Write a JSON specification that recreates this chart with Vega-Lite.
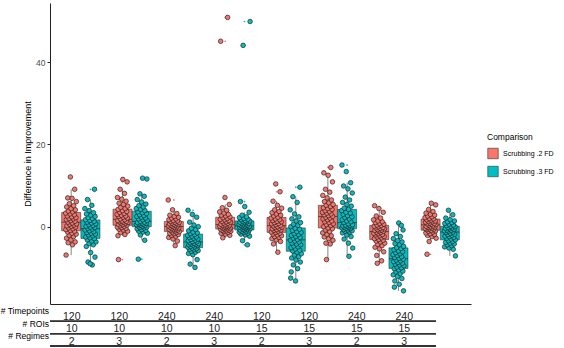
{
  "$schema": "https://vega.github.io/schema/vega-lite/v6.json",
  "background": "white",
  "padding": {"left": 0, "top": 3, "right": 0, "bottom": 0},
  "spacing": 2,
  "config": {
    "font": "Liberation Sans",
    "view": {"stroke": null},
    "axis": {"grid": false, "domainColor": "#222", "tickColor": "#222", "labelColor": "#4d4d4d", "labelFontSize": 8.5, "titleFontWeight": "normal", "titleColor": "#000", "titleFontSize": 9},
    "legend": {"titleFontSize": 8.5, "titleFontWeight": "normal", "titleColor": "#000", "labelFontSize": 7, "labelColor": "#000", "symbolType": "square", "symbolSize": 110, "symbolStrokeColor": "#333", "symbolStrokeWidth": 0.6, "rowPadding": 4, "titlePadding": 6}
  },
  "datasets": {
    "comparisons": [
      {"c": 2, "comparison": "Scrubbing .2 FD"},
      {"c": 3, "comparison": "Scrubbing .3 FD"}
    ],
    "table": [
      {"g": 1, "row": "# Timepoints", "value": "120"}, {"g": 2, "row": "# Timepoints", "value": "120"},
      {"g": 3, "row": "# Timepoints", "value": "240"}, {"g": 4, "row": "# Timepoints", "value": "240"},
      {"g": 5, "row": "# Timepoints", "value": "120"}, {"g": 6, "row": "# Timepoints", "value": "120"},
      {"g": 7, "row": "# Timepoints", "value": "240"}, {"g": 8, "row": "# Timepoints", "value": "240"},
      {"g": 1, "row": "# ROIs", "value": "10"}, {"g": 2, "row": "# ROIs", "value": "10"},
      {"g": 3, "row": "# ROIs", "value": "10"}, {"g": 4, "row": "# ROIs", "value": "10"},
      {"g": 5, "row": "# ROIs", "value": "15"}, {"g": 6, "row": "# ROIs", "value": "15"},
      {"g": 7, "row": "# ROIs", "value": "15"}, {"g": 8, "row": "# ROIs", "value": "15"},
      {"g": 1, "row": "# Regimes", "value": "2"}, {"g": 2, "row": "# Regimes", "value": "3"},
      {"g": 3, "row": "# Regimes", "value": "2"}, {"g": 4, "row": "# Regimes", "value": "3"},
      {"g": 5, "row": "# Regimes", "value": "2"}, {"g": 6, "row": "# Regimes", "value": "3"},
      {"g": 7, "row": "# Regimes", "value": "2"}, {"g": 8, "row": "# Regimes", "value": "3"}
    ],
    "scores": [
      {"g":1,"c":2,"d":-4.4},{"g":1,"c":2,"d":-3.9},{"g":1,"c":2,"d":-3.7},{"g":1,"c":2,"d":-3.2},{"g":1,"c":2,"d":-2.8},{"g":1,"c":2,"d":-2.4},{"g":1,"c":2,"d":-2.1},{"g":1,"c":2,"d":-1.8},{"g":1,"c":2,"d":-1.6},{"g":1,"c":2,"d":-1.3},{"g":1,"c":2,"d":-1.1},{"g":1,"c":2,"d":-0.9},{"g":1,"c":2,"d":-0.7},{"g":1,"c":2,"d":-0.5},{"g":1,"c":2,"d":-0.3},{"g":1,"c":2,"d":-0.1},{"g":1,"c":2,"d":0.1},{"g":1,"c":2,"d":0.2},{"g":1,"c":2,"d":0.4},{"g":1,"c":2,"d":0.6},{"g":1,"c":2,"d":0.7},{"g":1,"c":2,"d":0.9},
      {"g":1,"c":2,"d":1.1},{"g":1,"c":2,"d":1.3},{"g":1,"c":2,"d":1.5},{"g":1,"c":2,"d":1.7},{"g":1,"c":2,"d":1.9},{"g":1,"c":2,"d":2.0},{"g":1,"c":2,"d":2.2},{"g":1,"c":2,"d":2.4},{"g":1,"c":2,"d":2.6},{"g":1,"c":2,"d":2.9},{"g":1,"c":2,"d":3.1},{"g":1,"c":2,"d":3.3},{"g":1,"c":2,"d":3.6},{"g":1,"c":2,"d":3.8},{"g":1,"c":2,"d":4.1},{"g":1,"c":2,"d":4.4},{"g":1,"c":2,"d":4.8},{"g":1,"c":2,"d":5.1},{"g":1,"c":2,"d":5.6},{"g":1,"c":2,"d":6.1},{"g":1,"c":2,"d":6.9},{"g":1,"c":2,"d":7.0},
      {"g":1,"c":2,"d":9.1},{"g":1,"c":2,"d":12.1},{"g":1,"c":2,"d":-6.9},
      {"g":1,"c":3,"d":-9.3},{"g":1,"c":3,"d":-8.6},{"g":1,"c":3,"d":-7.4},{"g":1,"c":3,"d":-6.3},{"g":1,"c":3,"d":-4.8},{"g":1,"c":3,"d":-4.4},{"g":1,"c":3,"d":-4.1},{"g":1,"c":3,"d":-3.7},{"g":1,"c":3,"d":-3.5},{"g":1,"c":3,"d":-3.2},{"g":1,"c":3,"d":-2.9},{"g":1,"c":3,"d":-2.7},{"g":1,"c":3,"d":-2.5},{"g":1,"c":3,"d":-2.2},{"g":1,"c":3,"d":-2.0},{"g":1,"c":3,"d":-1.8},{"g":1,"c":3,"d":-1.6},{"g":1,"c":3,"d":-1.4},{"g":1,"c":3,"d":-1.2},{"g":1,"c":3,"d":-1.0},{"g":1,"c":3,"d":-0.8},{"g":1,"c":3,"d":-0.6},
      {"g":1,"c":3,"d":-0.4},{"g":1,"c":3,"d":-0.2},{"g":1,"c":3,"d":-0.1},{"g":1,"c":3,"d":0.1},{"g":1,"c":3,"d":0.3},{"g":1,"c":3,"d":0.5},{"g":1,"c":3,"d":0.7},{"g":1,"c":3,"d":0.9},{"g":1,"c":3,"d":1.1},{"g":1,"c":3,"d":1.3},{"g":1,"c":3,"d":1.5},{"g":1,"c":3,"d":1.7},{"g":1,"c":3,"d":2.0},{"g":1,"c":3,"d":2.2},{"g":1,"c":3,"d":2.5},{"g":1,"c":3,"d":2.8},{"g":1,"c":3,"d":3.1},{"g":1,"c":3,"d":3.4},{"g":1,"c":3,"d":3.9},{"g":1,"c":3,"d":4.4},{"g":1,"c":3,"d":5.2},{"g":1,"c":3,"d":6.6},
      {"g":1,"c":3,"d":9.1},{"g":1,"c":3,"d":-9.0},
      {"g":2,"c":2,"d":-2.2},{"g":2,"c":2,"d":-1.9},{"g":2,"c":2,"d":-1.4},{"g":2,"c":2,"d":-1.1},{"g":2,"c":2,"d":-0.8},{"g":2,"c":2,"d":-0.6},{"g":2,"c":2,"d":-0.4},{"g":2,"c":2,"d":-0.2},{"g":2,"c":2,"d":-0.1},{"g":2,"c":2,"d":0.1},{"g":2,"c":2,"d":0.2},{"g":2,"c":2,"d":0.4},{"g":2,"c":2,"d":0.5},{"g":2,"c":2,"d":0.6},{"g":2,"c":2,"d":0.8},{"g":2,"c":2,"d":0.9},{"g":2,"c":2,"d":1.0},{"g":2,"c":2,"d":1.1},{"g":2,"c":2,"d":1.2},{"g":2,"c":2,"d":1.3},{"g":2,"c":2,"d":1.4},{"g":2,"c":2,"d":1.5},
      {"g":2,"c":2,"d":1.7},{"g":2,"c":2,"d":1.9},{"g":2,"c":2,"d":2.1},{"g":2,"c":2,"d":2.3},{"g":2,"c":2,"d":2.5},{"g":2,"c":2,"d":2.6},{"g":2,"c":2,"d":2.8},{"g":2,"c":2,"d":3.0},{"g":2,"c":2,"d":3.2},{"g":2,"c":2,"d":3.5},{"g":2,"c":2,"d":3.7},{"g":2,"c":2,"d":3.9},{"g":2,"c":2,"d":4.2},{"g":2,"c":2,"d":4.4},{"g":2,"c":2,"d":4.7},{"g":2,"c":2,"d":5.0},{"g":2,"c":2,"d":5.4},{"g":2,"c":2,"d":5.7},{"g":2,"c":2,"d":6.2},{"g":2,"c":2,"d":6.7},{"g":2,"c":2,"d":7.1},{"g":2,"c":2,"d":8.1},
      {"g":2,"c":2,"d":9.1},{"g":2,"c":2,"d":10.9},{"g":2,"c":2,"d":11.5},{"g":2,"c":2,"d":-8.0},
      {"g":2,"c":3,"d":-3.3},{"g":2,"c":3,"d":-2.0},{"g":2,"c":3,"d":-1.6},{"g":2,"c":3,"d":-1.3},{"g":2,"c":3,"d":-1.1},{"g":2,"c":3,"d":-0.9},{"g":2,"c":3,"d":-0.7},{"g":2,"c":3,"d":-0.5},{"g":2,"c":3,"d":-0.3},{"g":2,"c":3,"d":-0.2},{"g":2,"c":3,"d":-0.1},{"g":2,"c":3,"d":0.1},{"g":2,"c":3,"d":0.2},{"g":2,"c":3,"d":0.3},{"g":2,"c":3,"d":0.4},{"g":2,"c":3,"d":0.5},{"g":2,"c":3,"d":0.6},{"g":2,"c":3,"d":0.7},{"g":2,"c":3,"d":0.8},{"g":2,"c":3,"d":0.9},{"g":2,"c":3,"d":1.0},{"g":2,"c":3,"d":1.1},
      {"g":2,"c":3,"d":1.3},{"g":2,"c":3,"d":1.5},{"g":2,"c":3,"d":1.7},{"g":2,"c":3,"d":1.9},{"g":2,"c":3,"d":2.1},{"g":2,"c":3,"d":2.3},{"g":2,"c":3,"d":2.5},{"g":2,"c":3,"d":2.7},{"g":2,"c":3,"d":2.9},{"g":2,"c":3,"d":3.2},{"g":2,"c":3,"d":3.4},{"g":2,"c":3,"d":3.6},{"g":2,"c":3,"d":3.9},{"g":2,"c":3,"d":4.2},{"g":2,"c":3,"d":4.4},{"g":2,"c":3,"d":4.8},{"g":2,"c":3,"d":5.1},{"g":2,"c":3,"d":5.5},{"g":2,"c":3,"d":6.0},{"g":2,"c":3,"d":6.6},{"g":2,"c":3,"d":7.4},{"g":2,"c":3,"d":8.0},
      {"g":2,"c":3,"d":11.6},{"g":2,"c":3,"d":11.8},{"g":2,"c":3,"d":-7.9},
      {"g":3,"c":2,"d":-3.5},{"g":3,"c":2,"d":-3.0},{"g":3,"c":2,"d":-2.6},{"g":3,"c":2,"d":-2.3},{"g":3,"c":2,"d":-2.1},{"g":3,"c":2,"d":-1.9},{"g":3,"c":2,"d":-1.7},{"g":3,"c":2,"d":-1.6},{"g":3,"c":2,"d":-1.4},{"g":3,"c":2,"d":-1.3},{"g":3,"c":2,"d":-1.2},{"g":3,"c":2,"d":-1.0},{"g":3,"c":2,"d":-0.9},{"g":3,"c":2,"d":-0.8},{"g":3,"c":2,"d":-0.7},{"g":3,"c":2,"d":-0.6},{"g":3,"c":2,"d":-0.5},{"g":3,"c":2,"d":-0.4},{"g":3,"c":2,"d":-0.3},{"g":3,"c":2,"d":-0.2},{"g":3,"c":2,"d":-0.1},{"g":3,"c":2,"d":0.0},
      {"g":3,"c":2,"d":0.1},{"g":3,"c":2,"d":0.2},{"g":3,"c":2,"d":0.3},{"g":3,"c":2,"d":0.4},{"g":3,"c":2,"d":0.5},{"g":3,"c":2,"d":0.6},{"g":3,"c":2,"d":0.7},{"g":3,"c":2,"d":0.8},{"g":3,"c":2,"d":0.9},{"g":3,"c":2,"d":1.0},{"g":3,"c":2,"d":1.1},{"g":3,"c":2,"d":1.3},{"g":3,"c":2,"d":1.4},{"g":3,"c":2,"d":1.5},{"g":3,"c":2,"d":1.7},{"g":3,"c":2,"d":1.9},{"g":3,"c":2,"d":2.1},{"g":3,"c":2,"d":2.3},{"g":3,"c":2,"d":2.5},{"g":3,"c":2,"d":2.8},{"g":3,"c":2,"d":3.2},{"g":3,"c":2,"d":4.1},
      {"g":3,"c":2,"d":6.5},{"g":3,"c":2,"d":-4.6},
      {"g":3,"c":3,"d":-9.1},{"g":3,"c":3,"d":-8.0},{"g":3,"c":3,"d":-6.8},{"g":3,"c":3,"d":-6.5},{"g":3,"c":3,"d":-6.2},{"g":3,"c":3,"d":-6.0},{"g":3,"c":3,"d":-5.8},{"g":3,"c":3,"d":-5.6},{"g":3,"c":3,"d":-5.5},{"g":3,"c":3,"d":-5.3},{"g":3,"c":3,"d":-5.2},{"g":3,"c":3,"d":-5.0},{"g":3,"c":3,"d":-4.9},{"g":3,"c":3,"d":-4.8},{"g":3,"c":3,"d":-4.6},{"g":3,"c":3,"d":-4.5},{"g":3,"c":3,"d":-4.4},{"g":3,"c":3,"d":-4.3},{"g":3,"c":3,"d":-4.2},{"g":3,"c":3,"d":-4.1},{"g":3,"c":3,"d":-4.0},{"g":3,"c":3,"d":-3.9},
      {"g":3,"c":3,"d":-3.7},{"g":3,"c":3,"d":-3.6},{"g":3,"c":3,"d":-3.4},{"g":3,"c":3,"d":-3.3},{"g":3,"c":3,"d":-3.1},{"g":3,"c":3,"d":-3.0},{"g":3,"c":3,"d":-2.8},{"g":3,"c":3,"d":-2.6},{"g":3,"c":3,"d":-2.5},{"g":3,"c":3,"d":-2.3},{"g":3,"c":3,"d":-2.1},{"g":3,"c":3,"d":-1.9},{"g":3,"c":3,"d":-1.7},{"g":3,"c":3,"d":-1.5},{"g":3,"c":3,"d":-1.3},{"g":3,"c":3,"d":-1.0},{"g":3,"c":3,"d":-0.7},{"g":3,"c":3,"d":-0.4},{"g":3,"c":3,"d":0.0},{"g":3,"c":3,"d":0.4},{"g":3,"c":3,"d":1.1},{"g":3,"c":3,"d":2.3},
      {"g":3,"c":3,"d":3.0},{"g":3,"c":3,"d":4.0},{"g":3,"c":3,"d":-9.9},
      {"g":4,"c":2,"d":-2.7},{"g":4,"c":2,"d":-2.1},{"g":4,"c":2,"d":-1.8},{"g":4,"c":2,"d":-1.6},{"g":4,"c":2,"d":-1.4},{"g":4,"c":2,"d":-1.2},{"g":4,"c":2,"d":-1.1},{"g":4,"c":2,"d":-1.0},{"g":4,"c":2,"d":-0.9},{"g":4,"c":2,"d":-0.8},{"g":4,"c":2,"d":-0.6},{"g":4,"c":2,"d":-0.6},{"g":4,"c":2,"d":-0.5},{"g":4,"c":2,"d":-0.4},{"g":4,"c":2,"d":-0.3},{"g":4,"c":2,"d":-0.2},{"g":4,"c":2,"d":-0.1},{"g":4,"c":2,"d":0.0},{"g":4,"c":2,"d":0.0},{"g":4,"c":2,"d":0.1},{"g":4,"c":2,"d":0.2},{"g":4,"c":2,"d":0.3},
      {"g":4,"c":2,"d":0.4},{"g":4,"c":2,"d":0.5},{"g":4,"c":2,"d":0.6},{"g":4,"c":2,"d":0.8},{"g":4,"c":2,"d":0.9},{"g":4,"c":2,"d":1.1},{"g":4,"c":2,"d":1.2},{"g":4,"c":2,"d":1.3},{"g":4,"c":2,"d":1.5},{"g":4,"c":2,"d":1.7},{"g":4,"c":2,"d":1.8},{"g":4,"c":2,"d":2.0},{"g":4,"c":2,"d":2.2},{"g":4,"c":2,"d":2.4},{"g":4,"c":2,"d":2.6},{"g":4,"c":2,"d":2.8},{"g":4,"c":2,"d":3.0},{"g":4,"c":2,"d":3.3},{"g":4,"c":2,"d":3.6},{"g":4,"c":2,"d":4.0},{"g":4,"c":2,"d":4.6},{"g":4,"c":2,"d":5.4},
      {"g":4,"c":2,"d":7.1},{"g":4,"c":2,"d":45.1},{"g":4,"c":2,"d":50.9},
      {"g":4,"c":3,"d":-3.4},{"g":4,"c":3,"d":-2.3},{"g":4,"c":3,"d":-2.0},{"g":4,"c":3,"d":-1.8},{"g":4,"c":3,"d":-1.6},{"g":4,"c":3,"d":-1.4},{"g":4,"c":3,"d":-1.3},{"g":4,"c":3,"d":-1.2},{"g":4,"c":3,"d":-1.1},{"g":4,"c":3,"d":-1.0},{"g":4,"c":3,"d":-0.8},{"g":4,"c":3,"d":-0.8},{"g":4,"c":3,"d":-0.7},{"g":4,"c":3,"d":-0.6},{"g":4,"c":3,"d":-0.5},{"g":4,"c":3,"d":-0.4},{"g":4,"c":3,"d":-0.3},{"g":4,"c":3,"d":-0.2},{"g":4,"c":3,"d":-0.2},{"g":4,"c":3,"d":-0.1},{"g":4,"c":3,"d":0.0},{"g":4,"c":3,"d":0.1},
      {"g":4,"c":3,"d":0.1},{"g":4,"c":3,"d":0.2},{"g":4,"c":3,"d":0.3},{"g":4,"c":3,"d":0.4},{"g":4,"c":3,"d":0.5},{"g":4,"c":3,"d":0.6},{"g":4,"c":3,"d":0.7},{"g":4,"c":3,"d":0.8},{"g":4,"c":3,"d":0.8},{"g":4,"c":3,"d":1.0},{"g":4,"c":3,"d":1.1},{"g":4,"c":3,"d":1.2},{"g":4,"c":3,"d":1.3},{"g":4,"c":3,"d":1.4},{"g":4,"c":3,"d":1.5},{"g":4,"c":3,"d":1.7},{"g":4,"c":3,"d":1.8},{"g":4,"c":3,"d":2.0},{"g":4,"c":3,"d":2.2},{"g":4,"c":3,"d":2.4},{"g":4,"c":3,"d":2.8},{"g":4,"c":3,"d":3.5},
      {"g":4,"c":3,"d":4.9},{"g":4,"c":3,"d":6.1},{"g":4,"c":3,"d":-4.4},{"g":4,"c":3,"d":44.1},{"g":4,"c":3,"d":49.9},
      {"g":5,"c":2,"d":-6.2},{"g":5,"c":2,"d":-4.2},{"g":5,"c":2,"d":-3.6},{"g":5,"c":2,"d":-3.2},{"g":5,"c":2,"d":-2.9},{"g":5,"c":2,"d":-2.6},{"g":5,"c":2,"d":-2.4},{"g":5,"c":2,"d":-2.2},{"g":5,"c":2,"d":-2.0},{"g":5,"c":2,"d":-1.8},{"g":5,"c":2,"d":-1.6},{"g":5,"c":2,"d":-1.4},{"g":5,"c":2,"d":-1.3},{"g":5,"c":2,"d":-1.1},{"g":5,"c":2,"d":-0.9},{"g":5,"c":2,"d":-0.8},{"g":5,"c":2,"d":-0.7},{"g":5,"c":2,"d":-0.5},{"g":5,"c":2,"d":-0.4},{"g":5,"c":2,"d":-0.2},{"g":5,"c":2,"d":-0.1},{"g":5,"c":2,"d":0.0},
      {"g":5,"c":2,"d":0.2},{"g":5,"c":2,"d":0.3},{"g":5,"c":2,"d":0.5},{"g":5,"c":2,"d":0.7},{"g":5,"c":2,"d":0.8},{"g":5,"c":2,"d":1.0},{"g":5,"c":2,"d":1.2},{"g":5,"c":2,"d":1.3},{"g":5,"c":2,"d":1.5},{"g":5,"c":2,"d":1.7},{"g":5,"c":2,"d":1.9},{"g":5,"c":2,"d":2.1},{"g":5,"c":2,"d":2.3},{"g":5,"c":2,"d":2.6},{"g":5,"c":2,"d":2.8},{"g":5,"c":2,"d":3.1},{"g":5,"c":2,"d":3.4},{"g":5,"c":2,"d":3.7},{"g":5,"c":2,"d":4.1},{"g":5,"c":2,"d":4.5},{"g":5,"c":2,"d":5.2},{"g":5,"c":2,"d":6.2},
      {"g":5,"c":2,"d":8.5},{"g":5,"c":2,"d":10.4},
      {"g":5,"c":3,"d":-12.5},{"g":5,"c":3,"d":-10.2},{"g":5,"c":3,"d":-9.3},{"g":5,"c":3,"d":-8.6},{"g":5,"c":3,"d":-8.1},{"g":5,"c":3,"d":-7.6},{"g":5,"c":3,"d":-7.3},{"g":5,"c":3,"d":-6.9},{"g":5,"c":3,"d":-6.6},{"g":5,"c":3,"d":-6.2},{"g":5,"c":3,"d":-5.9},{"g":5,"c":3,"d":-5.7},{"g":5,"c":3,"d":-5.4},{"g":5,"c":3,"d":-5.1},{"g":5,"c":3,"d":-4.9},{"g":5,"c":3,"d":-4.7},{"g":5,"c":3,"d":-4.4},{"g":5,"c":3,"d":-4.2},{"g":5,"c":3,"d":-4.0},{"g":5,"c":3,"d":-3.7},{"g":5,"c":3,"d":-3.5},{"g":5,"c":3,"d":-3.3},
      {"g":5,"c":3,"d":-3.1},{"g":5,"c":3,"d":-2.8},{"g":5,"c":3,"d":-2.6},{"g":5,"c":3,"d":-2.4},{"g":5,"c":3,"d":-2.1},{"g":5,"c":3,"d":-1.9},{"g":5,"c":3,"d":-1.7},{"g":5,"c":3,"d":-1.4},{"g":5,"c":3,"d":-1.2},{"g":5,"c":3,"d":-0.9},{"g":5,"c":3,"d":-0.6},{"g":5,"c":3,"d":-0.4},{"g":5,"c":3,"d":0.0},{"g":5,"c":3,"d":0.3},{"g":5,"c":3,"d":0.6},{"g":5,"c":3,"d":1.0},{"g":5,"c":3,"d":1.4},{"g":5,"c":3,"d":1.9},{"g":5,"c":3,"d":2.4},{"g":5,"c":3,"d":3.1},{"g":5,"c":3,"d":4.1},{"g":5,"c":3,"d":5.9},
      {"g":5,"c":3,"d":7.3},{"g":5,"c":3,"d":9.6},{"g":5,"c":3,"d":-13.2},{"g":5,"c":3,"d":-11.0},
      {"g":6,"c":2,"d":-4.2},{"g":6,"c":2,"d":-4.0},{"g":6,"c":2,"d":-3.3},{"g":6,"c":2,"d":-2.9},{"g":6,"c":2,"d":-2.5},{"g":6,"c":2,"d":-2.2},{"g":6,"c":2,"d":-1.9},{"g":6,"c":2,"d":-1.5},{"g":6,"c":2,"d":-1.2},{"g":6,"c":2,"d":-0.8},{"g":6,"c":2,"d":-0.5},{"g":6,"c":2,"d":-0.3},{"g":6,"c":2,"d":0.0},{"g":6,"c":2,"d":0.3},{"g":6,"c":2,"d":0.5},{"g":6,"c":2,"d":0.7},{"g":6,"c":2,"d":1.0},{"g":6,"c":2,"d":1.2},{"g":6,"c":2,"d":1.4},{"g":6,"c":2,"d":1.7},{"g":6,"c":2,"d":1.9},{"g":6,"c":2,"d":2.1},
      {"g":6,"c":2,"d":2.3},{"g":6,"c":2,"d":2.5},{"g":6,"c":2,"d":2.7},{"g":6,"c":2,"d":2.9},{"g":6,"c":2,"d":3.1},{"g":6,"c":2,"d":3.3},{"g":6,"c":2,"d":3.5},{"g":6,"c":2,"d":3.7},{"g":6,"c":2,"d":3.9},{"g":6,"c":2,"d":4.2},{"g":6,"c":2,"d":4.4},{"g":6,"c":2,"d":4.6},{"g":6,"c":2,"d":4.9},{"g":6,"c":2,"d":5.2},{"g":6,"c":2,"d":5.4},{"g":6,"c":2,"d":5.8},{"g":6,"c":2,"d":6.1},{"g":6,"c":2,"d":6.5},{"g":6,"c":2,"d":7.0},{"g":6,"c":2,"d":7.6},{"g":6,"c":2,"d":8.4},{"g":6,"c":2,"d":9.1},
      {"g":6,"c":2,"d":10.9},{"g":6,"c":2,"d":12.5},{"g":6,"c":2,"d":13.1},{"g":6,"c":2,"d":14.4},{"g":6,"c":2,"d":-8.0},
      {"g":6,"c":3,"d":-5.2},{"g":6,"c":3,"d":-4.0},{"g":6,"c":3,"d":-3.0},{"g":6,"c":3,"d":-2.4},{"g":6,"c":3,"d":-2.0},{"g":6,"c":3,"d":-1.5},{"g":6,"c":3,"d":-1.3},{"g":6,"c":3,"d":-1.1},{"g":6,"c":3,"d":-1.0},{"g":6,"c":3,"d":-0.8},{"g":6,"c":3,"d":-0.7},{"g":6,"c":3,"d":-0.5},{"g":6,"c":3,"d":-0.4},{"g":6,"c":3,"d":-0.3},{"g":6,"c":3,"d":-0.2},{"g":6,"c":3,"d":-0.1},{"g":6,"c":3,"d":0.0},{"g":6,"c":3,"d":0.1},{"g":6,"c":3,"d":0.2},{"g":6,"c":3,"d":0.3},{"g":6,"c":3,"d":0.4},{"g":6,"c":3,"d":0.5},
      {"g":6,"c":3,"d":0.7},{"g":6,"c":3,"d":1.0},{"g":6,"c":3,"d":1.2},{"g":6,"c":3,"d":1.4},{"g":6,"c":3,"d":1.7},{"g":6,"c":3,"d":1.9},{"g":6,"c":3,"d":2.2},{"g":6,"c":3,"d":2.4},{"g":6,"c":3,"d":2.7},{"g":6,"c":3,"d":3.0},{"g":6,"c":3,"d":3.3},{"g":6,"c":3,"d":3.5},{"g":6,"c":3,"d":3.9},{"g":6,"c":3,"d":4.2},{"g":6,"c":3,"d":4.5},{"g":6,"c":3,"d":5.0},{"g":6,"c":3,"d":5.4},{"g":6,"c":3,"d":5.9},{"g":6,"c":3,"d":6.5},{"g":6,"c":3,"d":7.2},{"g":6,"c":3,"d":8.2},{"g":6,"c":3,"d":9.2},
      {"g":6,"c":3,"d":9.9},{"g":6,"c":3,"d":10.7},{"g":6,"c":3,"d":13.4},{"g":6,"c":3,"d":15.0},{"g":6,"c":3,"d":-7.2},
      {"g":7,"c":2,"d":-7.0},{"g":7,"c":2,"d":-6.1},{"g":7,"c":2,"d":-5.4},{"g":7,"c":2,"d":-5.0},{"g":7,"c":2,"d":-4.6},{"g":7,"c":2,"d":-4.3},{"g":7,"c":2,"d":-4.0},{"g":7,"c":2,"d":-3.7},{"g":7,"c":2,"d":-3.5},{"g":7,"c":2,"d":-3.3},{"g":7,"c":2,"d":-3.1},{"g":7,"c":2,"d":-2.9},{"g":7,"c":2,"d":-2.7},{"g":7,"c":2,"d":-2.5},{"g":7,"c":2,"d":-2.4},{"g":7,"c":2,"d":-2.2},{"g":7,"c":2,"d":-2.0},{"g":7,"c":2,"d":-1.9},{"g":7,"c":2,"d":-1.7},{"g":7,"c":2,"d":-1.6},{"g":7,"c":2,"d":-1.4},{"g":7,"c":2,"d":-1.3},
      {"g":7,"c":2,"d":-1.1},{"g":7,"c":2,"d":-1.0},{"g":7,"c":2,"d":-0.9},{"g":7,"c":2,"d":-0.8},{"g":7,"c":2,"d":-0.7},{"g":7,"c":2,"d":-0.5},{"g":7,"c":2,"d":-0.4},{"g":7,"c":2,"d":-0.3},{"g":7,"c":2,"d":-0.2},{"g":7,"c":2,"d":0.0},{"g":7,"c":2,"d":0.1},{"g":7,"c":2,"d":0.3},{"g":7,"c":2,"d":0.4},{"g":7,"c":2,"d":0.6},{"g":7,"c":2,"d":0.8},{"g":7,"c":2,"d":1.0},{"g":7,"c":2,"d":1.2},{"g":7,"c":2,"d":1.4},{"g":7,"c":2,"d":1.7},{"g":7,"c":2,"d":2.1},{"g":7,"c":2,"d":2.6},{"g":7,"c":2,"d":3.5},
      {"g":7,"c":2,"d":4.4},{"g":7,"c":2,"d":5.1},{"g":7,"c":2,"d":-8.3},{"g":7,"c":2,"d":-8.9},
      {"g":7,"c":3,"d":-15.6},{"g":7,"c":3,"d":-14.0},{"g":7,"c":3,"d":-13.2},{"g":7,"c":3,"d":-12.6},{"g":7,"c":3,"d":-12.1},{"g":7,"c":3,"d":-11.7},{"g":7,"c":3,"d":-11.4},{"g":7,"c":3,"d":-11.0},{"g":7,"c":3,"d":-10.8},{"g":7,"c":3,"d":-10.5},{"g":7,"c":3,"d":-10.2},{"g":7,"c":3,"d":-10.0},{"g":7,"c":3,"d":-9.8},{"g":7,"c":3,"d":-9.5},{"g":7,"c":3,"d":-9.3},{"g":7,"c":3,"d":-9.1},{"g":7,"c":3,"d":-8.9},{"g":7,"c":3,"d":-8.7},{"g":7,"c":3,"d":-8.5},{"g":7,"c":3,"d":-8.3},{"g":7,"c":3,"d":-8.1},{"g":7,"c":3,"d":-7.9},
      {"g":7,"c":3,"d":-7.7},{"g":7,"c":3,"d":-7.5},{"g":7,"c":3,"d":-7.3},{"g":7,"c":3,"d":-7.0},{"g":7,"c":3,"d":-6.8},{"g":7,"c":3,"d":-6.6},{"g":7,"c":3,"d":-6.3},{"g":7,"c":3,"d":-6.1},{"g":7,"c":3,"d":-5.9},{"g":7,"c":3,"d":-5.6},{"g":7,"c":3,"d":-5.3},{"g":7,"c":3,"d":-5.1},{"g":7,"c":3,"d":-4.8},{"g":7,"c":3,"d":-4.4},{"g":7,"c":3,"d":-4.1},{"g":7,"c":3,"d":-3.7},{"g":7,"c":3,"d":-3.4},{"g":7,"c":3,"d":-2.9},{"g":7,"c":3,"d":-2.4},{"g":7,"c":3,"d":-1.7},{"g":7,"c":3,"d":-0.8},{"g":7,"c":3,"d":0.9},
      {"g":7,"c":3,"d":-14.7},{"g":7,"c":3,"d":0.3},
      {"g":8,"c":2,"d":-3.6},{"g":8,"c":2,"d":-2.8},{"g":8,"c":2,"d":-2.4},{"g":8,"c":2,"d":-2.1},{"g":8,"c":2,"d":-1.9},{"g":8,"c":2,"d":-1.7},{"g":8,"c":2,"d":-1.5},{"g":8,"c":2,"d":-1.3},{"g":8,"c":2,"d":-1.1},{"g":8,"c":2,"d":-1.0},{"g":8,"c":2,"d":-0.9},{"g":8,"c":2,"d":-0.7},{"g":8,"c":2,"d":-0.6},{"g":8,"c":2,"d":-0.5},{"g":8,"c":2,"d":-0.4},{"g":8,"c":2,"d":-0.3},{"g":8,"c":2,"d":-0.2},{"g":8,"c":2,"d":-0.1},{"g":8,"c":2,"d":0.0},{"g":8,"c":2,"d":0.1},{"g":8,"c":2,"d":0.2},{"g":8,"c":2,"d":0.4},
      {"g":8,"c":2,"d":0.5},{"g":8,"c":2,"d":0.6},{"g":8,"c":2,"d":0.7},{"g":8,"c":2,"d":0.8},{"g":8,"c":2,"d":0.9},{"g":8,"c":2,"d":1.1},{"g":8,"c":2,"d":1.2},{"g":8,"c":2,"d":1.3},{"g":8,"c":2,"d":1.4},{"g":8,"c":2,"d":1.6},{"g":8,"c":2,"d":1.7},{"g":8,"c":2,"d":1.9},{"g":8,"c":2,"d":2.0},{"g":8,"c":2,"d":2.2},{"g":8,"c":2,"d":2.4},{"g":8,"c":2,"d":2.6},{"g":8,"c":2,"d":2.8},{"g":8,"c":2,"d":3.0},{"g":8,"c":2,"d":3.3},{"g":8,"c":2,"d":3.7},{"g":8,"c":2,"d":4.2},{"g":8,"c":2,"d":5.3},
      {"g":8,"c":2,"d":5.7},{"g":8,"c":2,"d":-6.7},
      {"g":8,"c":3,"d":-5.5},{"g":8,"c":3,"d":-5.2},{"g":8,"c":3,"d":-4.9},{"g":8,"c":3,"d":-4.6},{"g":8,"c":3,"d":-4.4},{"g":8,"c":3,"d":-4.2},{"g":8,"c":3,"d":-4.0},{"g":8,"c":3,"d":-3.8},{"g":8,"c":3,"d":-3.6},{"g":8,"c":3,"d":-3.4},{"g":8,"c":3,"d":-3.2},{"g":8,"c":3,"d":-3.0},{"g":8,"c":3,"d":-2.8},{"g":8,"c":3,"d":-2.6},{"g":8,"c":3,"d":-2.4},{"g":8,"c":3,"d":-2.3},{"g":8,"c":3,"d":-2.1},{"g":8,"c":3,"d":-1.9},{"g":8,"c":3,"d":-1.8},{"g":8,"c":3,"d":-1.6},{"g":8,"c":3,"d":-1.4},{"g":8,"c":3,"d":-1.3},
      {"g":8,"c":3,"d":-1.1},{"g":8,"c":3,"d":-1.0},{"g":8,"c":3,"d":-0.9},{"g":8,"c":3,"d":-0.8},{"g":8,"c":3,"d":-0.7},{"g":8,"c":3,"d":-0.5},{"g":8,"c":3,"d":-0.4},{"g":8,"c":3,"d":-0.3},{"g":8,"c":3,"d":-0.2},{"g":8,"c":3,"d":0.0},{"g":8,"c":3,"d":0.1},{"g":8,"c":3,"d":0.3},{"g":8,"c":3,"d":0.4},{"g":8,"c":3,"d":0.6},{"g":8,"c":3,"d":0.8},{"g":8,"c":3,"d":1.0},{"g":8,"c":3,"d":1.2},{"g":8,"c":3,"d":1.4},{"g":8,"c":3,"d":1.7},{"g":8,"c":3,"d":2.1},{"g":8,"c":3,"d":2.9},{"g":8,"c":3,"d":4.0},
      {"g":8,"c":3,"d":-7.1}
    ]
  },
  "vconcat": [
    {
      "width": 421,
      "height": 301,
      "data": {"name": "scores"},
      "transform": [
        {"lookup": "c", "from": {"data": {"name": "comparisons"}, "key": "c", "fields": ["comparison"]}},
        {"window": [{"op": "row_number", "as": "rn"}]},
        {"calculate": "(datum.c == 2 ? 0.3125 : 0.6875) + ((datum.rn * 0.6180339887) % 1 - 0.5) * 0.22", "as": "jit"}
      ],
      "encoding": {
        "x": {"field": "g", "type": "ordinal", "scale": {"paddingInner": 0, "paddingOuter": 0.1}, "axis": {"labels": false, "ticks": false, "title": null, "domainColor": "#222", "domainWidth": 1}},
        "y": {"field": "d", "type": "quantitative", "title": "Difference in Improvement", "scale": {"domain": [-18.8, 54.4], "nice": false, "zero": false}, "axis": {"values": [0, 20, 40], "tickSize": 3, "labelPadding": 2, "titlePadding": 3, "domainWidth": 1}}
      },
      "layer": [
        {
          "mark": {"type": "boxplot", "extent": 1.5, "size": 19, "box": {"stroke": "#333", "strokeWidth": 0.6}, "median": {"color": "#222", "strokeWidth": 1.2}, "rule": {"color": "#333", "strokeWidth": 0.6}, "outliers": {"size": 3, "filled": true, "opacity": 1}},
          "encoding": {
            "xOffset": {"field": "comparison", "type": "nominal", "scale": {"paddingOuter": 0.333, "paddingInner": 0}},
            "color": {"field": "comparison", "type": "nominal", "title": "Comparison", "scale": {"range": ["#F8766D", "#00BFC4"]}, "legend": {"orient": "none", "legendX": 437, "legendY": 130}}
          }
        },
        {
          "mark": {"type": "point", "filled": true, "size": 21, "stroke": "#222", "strokeWidth": 0.7, "opacity": 1},
          "encoding": {
            "xOffset": {"field": "jit", "type": "quantitative", "scale": {"domain": [0, 1]}},
            "color": {"field": "comparison", "type": "nominal"}
          }
        },
        {
          "mark": {"type": "rule", "strokeDash": [4, 3], "color": "#333", "strokeWidth": 1},
          "encoding": {"y": {"datum": 0}}
        }
      ],
      "resolve": {"scale": {"xOffset": "independent"}}
    },
    {
      "width": 386,
      "height": 37,
      "data": {"name": "table"},
      "encoding": {
        "y": {"field": "row", "type": "nominal", "sort": ["# Timepoints", "# ROIs", "# Regimes"], "bandPosition": 1, "scale": {"paddingInner": 0, "paddingOuter": 0}, "axis": {"title": null, "domain": false, "ticks": false, "labelPadding": 1.5, "labelFontSize": 8.5, "labelColor": "#000", "labelOffset": -4}}
      },
      "layer": [
        {"mark": {"type": "rule", "color": "#333", "strokeWidth": 1}},
        {
          "mark": {"type": "text", "fontSize": 10.5, "baseline": "alphabetic", "dy": -1.5, "dx": -2, "color": "#222"},
          "encoding": {
            "x": {"field": "g", "type": "ordinal", "bandPosition": 0.5, "axis": null, "scale": {"type": "band", "paddingInner": 0, "paddingOuter": 0.063, "align": 0}},
            "text": {"field": "value"}
          }
        }
      ]
    }
  ]
}
